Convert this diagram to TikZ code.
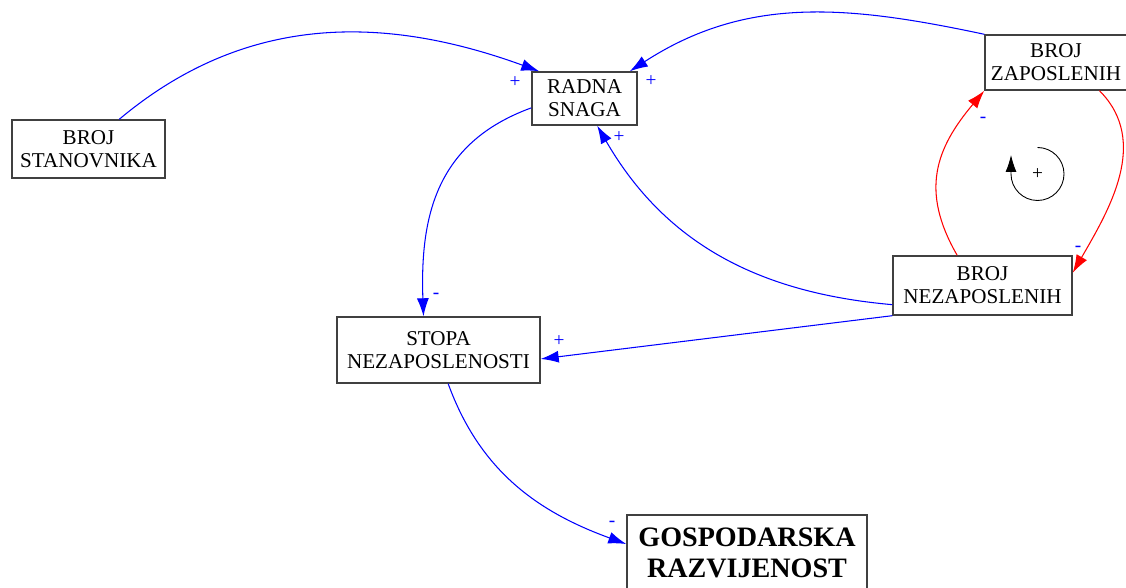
\documentclass[tikz,border=0pt]{standalone}
\usepackage{fontspec}
\setmainfont{Liberation Serif}
\usetikzlibrary{arrows.meta}

\begin{document}
\begin{tikzpicture}[>={Latex[length=3.6mm,width=2.4mm]},
    kutija/.style={draw=black!75, line width=0.8pt, align=center, inner sep=0pt,
        font=\fontsize{12}{13}\selectfont},
    plava/.style={->, blue, line width=0.6pt},
    crvena/.style={->, red, line width=0.6pt},
    znak/.style={blue, inner sep=0pt, font=\fontsize{11}{11}\selectfont}]
    \useasboundingbox (0,0) rectangle (22.52,11.76);

    % varijable
    \node[kutija, minimum width=3.06cm, minimum height=1.16cm] (stan) at (1.77,8.78) {BROJ\\STANOVNIKA};
    \node[kutija, minimum width=2.10cm, minimum height=1.06cm] (radna) at (11.69,9.79) {RADNA\\SNAGA};
    \node[kutija, minimum width=2.84cm, minimum height=1.10cm] (zap) at (21.12,10.51) {BROJ\\ZAPOSLENIH};
    \node[kutija, minimum width=3.58cm, minimum height=1.18cm] (nez) at (19.65,6.05) {BROJ\\NEZAPOSLENIH};
    \node[kutija, minimum width=4.06cm, minimum height=1.32cm] (stopa) at (8.77,4.76) {STOPA\\NEZAPOSLENOSTI};
    \node[kutija, minimum width=4.80cm, minimum height=1.50cm,
        font=\fontsize{16}{17.6}\selectfont\bfseries] (gosp) at (14.94,0.71) {GOSPODARSKA\\RAZVIJENOST};

    % veze
    \draw[plava] (stan.44) to[out=40,in=160] (radna.149);
    \draw[plava] (zap.north west) to[out=168,in=33] (radna.31);
    \draw[plava] (nez.192) to[out=175,in=-60] (radna.295);
    \draw[plava] (radna.190) to[out=200,in=92,looseness=1.1] (stopa.114);
    \draw[plava] (nez.south west) -- (stopa.355);
    \draw[plava] (stopa.286) to[out=-70,in=160] (gosp.176);
    \draw[crvena] (nez.130) to[out=120,in=-130,looseness=1.15] (zap.south west);
    \draw[crvena] (zap.327) to[out=-45,in=60] (nez.8);

    % polaritet
    \node[znak] at (10.30,10.12) {+};
    \node[znak] at (13.02,10.14) {+};
    \node[znak] at (12.38,9.02) {+};
    \node[znak] at (8.72,5.84) {-};
    \node[znak] at (11.18,4.94) {+};
    \node[znak] at (12.24,1.28) {-};
    \node[znak] at (19.66,9.36) {-};
    \node[znak] at (21.56,6.78) {-};

    % petlja
    \coordinate (petlja) at (20.75,8.28);
    \draw[->, >={Latex[length=3.4mm,width=2.2mm]}, line width=0.5pt]
        ([shift={(90:0.53)}]petlja) arc[start angle=90, end angle=-180, radius=0.53] -- ++(0,0.38);
    \node[znak, black] at (petlja) {+};
\end{tikzpicture}
\end{document}
